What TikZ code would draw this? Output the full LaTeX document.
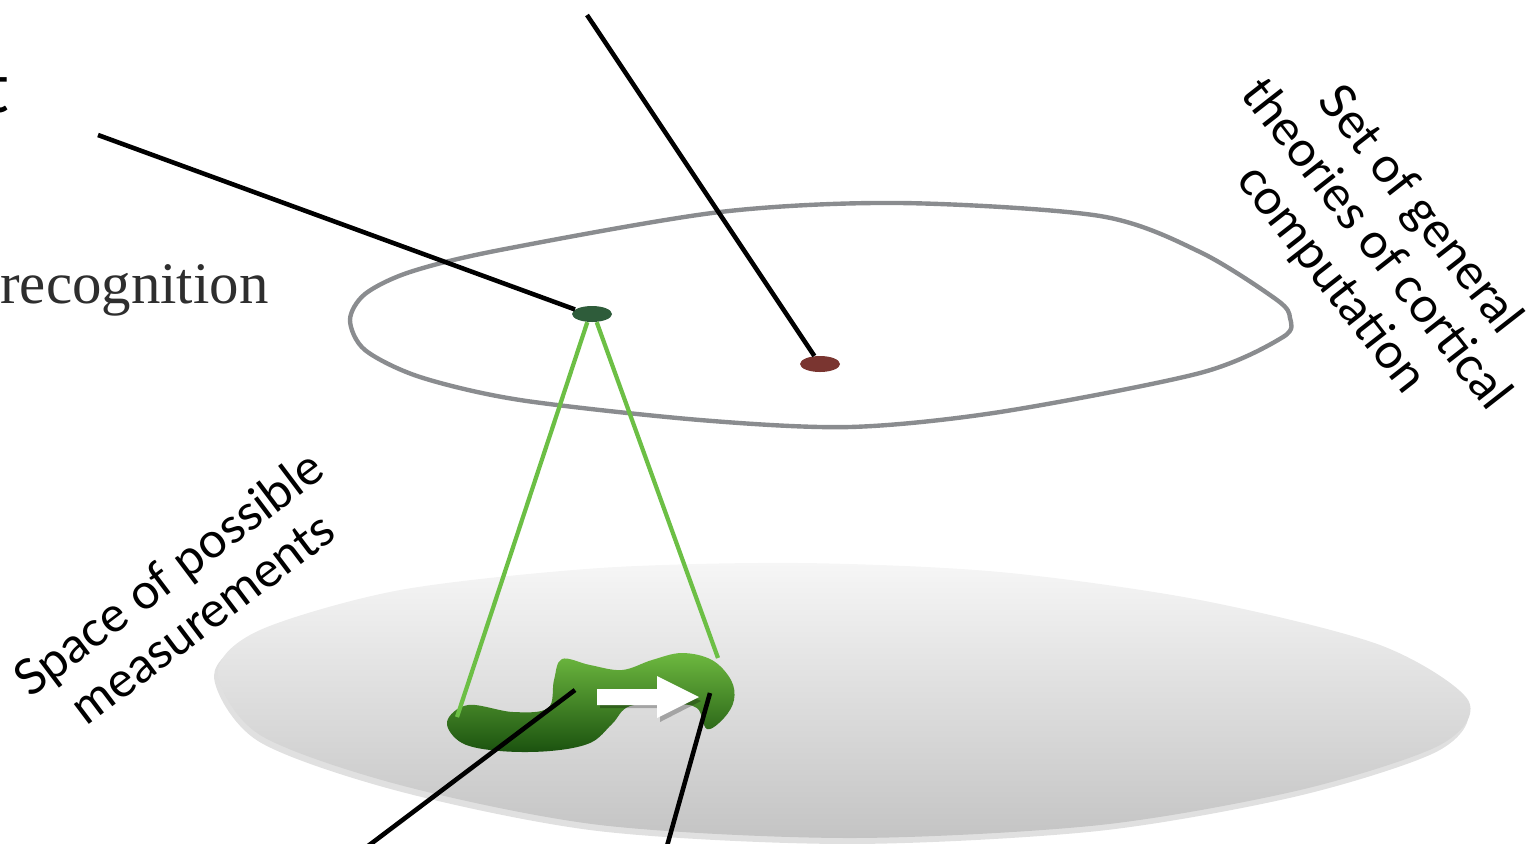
\documentclass[tikz,border=0pt]{standalone}
\usepackage{fontspec}
\setmainfont{Liberation Serif}
\setsansfont{Lato}
\usepackage{tikz}
\usetikzlibrary{shapes.geometric,positioning}
\definecolor{rimgray}{HTML}{8A8C8F}
\definecolor{linkgreen}{HTML}{6CBF45}
\definecolor{dotgreen}{HTML}{2E5C3A}
\definecolor{dotred}{HTML}{7A3530}
\definecolor{blobtop}{HTML}{6DB83F}
\definecolor{blobbot}{HTML}{1B520F}
\definecolor{disctop}{HTML}{F6F6F6}
\definecolor{discbot}{HTML}{C4C4C4}

\begin{document}
\begin{tikzpicture}[x=0.02cm,y=-0.02cm,
    pointer/.style={line width=2.6pt,black},
    link/.style={line width=2.4pt,linkgreen},
    dot/.style={ellipse,inner sep=0pt,minimum width=0.8cm,minimum height=0.32cm},
    caption/.style={font=\sffamily\fontsize{28}{32}\selectfont,align=center,inner sep=0pt}]
  \useasboundingbox (0,0) rectangle (1531,843);

  % space of measurements
  \fill[black,opacity=.12] plot[smooth cycle] coordinates {(214,676) (258,636) (400,596) (600,574) (800,569) (1000,578) (1200,606) (1380,651) (1466,706) (1438,751) (1298,796) (1098,831) (848,844) (598,831) (398,791) (258,741)};
  \shade[top color=disctop,bottom color=discbot] plot[smooth cycle] coordinates {(218,672) (260,630) (400,590) (600,568) (800,563) (1000,572) (1200,600) (1380,645) (1468,700) (1440,745) (1300,790) (1100,825) (850,838) (600,825) (400,785) (260,735)};

  % set of theories
  \draw[rimgray,line width=2.5pt] plot[smooth cycle] coordinates {(350,320) (365,294) (410,272) (500,250) (720,212) (900,203) (1100,216) (1200,252) (1277,300) (1290,318) (1283,337) (1200,373) (1000,412) (850,427) (700,420) (520,400) (420,377) (365,350)};

  \node[dot,fill=dotgreen] (gdot) at (592,314) {};
  \node[dot,fill=dotred] (rdot) at (820,364) {};

  % measured region
  \shade[top color=blobtop,bottom color=blobbot] plot[smooth cycle,tension=.6] coordinates {(447,722) (468,705) (513,712) (548,708) (554,680) (562,659) (590,665) (622,670) (652,660) (682,653) (712,660) (731,680) (734,700) (724,718) (707,729) (697,708) (672,704) (630,706) (612,724) (590,743) (550,751) (500,751) (462,743)};
  \coordinate (blobL) at (457,717);
  \coordinate (blobR) at (718,658);
  \coordinate (blobA) at (575,690);
  \coordinate (blobB) at (710,693);

  % shift arrow
  \fill[black,opacity=.25] (600,694) -- (660,694) -- (660,682) -- (701,701) -- (660,722) -- (660,708) -- (600,708) -- cycle;
  \fill[white] (597,689) -- (657,689) -- (657,676) -- (699,697) -- (657,718) -- (657,705) -- (597,705) -- cycle;

  \draw[link] (gdot.240) -- (blobL);
  \draw[link] (gdot.300) -- (blobR);

  \coordinate (tipA) at (98,135);
  \coordinate (tipB) at (587,15);
  \coordinate (tipC) at (368,846);
  \coordinate (tipD) at (667,846);
  \draw[pointer] (tipA) -- (gdot.165);
  \draw[pointer] (tipB) -- (rdot.125);
  \draw[pointer] (tipC) -- (blobA);
  \draw[pointer] (tipD) -- (blobB);

  % labels
  \node[font=\sffamily\fontsize{40}{40}\selectfont,anchor=base east,inner sep=0pt] (cut) at (9,112) {t};
  \node[font=\fontsize{33.5}{38}\selectfont,text=black!82,anchor=base west,inner sep=0pt] (task) at (0,303) {recognition};
  \node[caption,rotate=-52] (theoryset) at (1375,245) {Set of general\\theories of cortical\\computation};
  \node[caption,rotate=37] (measureset) at (185,595) {Space of possible\\measurements};
\end{tikzpicture}
\end{document}
